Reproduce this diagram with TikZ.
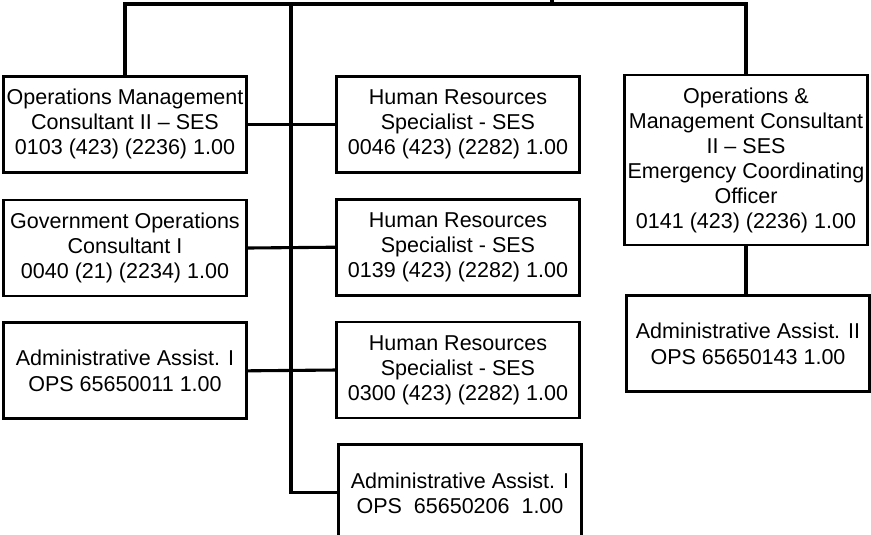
\documentclass[tikz,border=0pt]{standalone}
\usepackage{fontspec}
\setmainfont{Liberation Sans}
\usepackage{tikz}
\usetikzlibrary{positioning}

\begin{document}
\begin{tikzpicture}[
  post/.style={draw, line width=2pt, minimum width=6.075cm, minimum height=2.4cm, inner xsep=1pt,
    font=\fontsize{15.3}{17.8}\selectfont, align=center},
  tallpost/.style={post, minimum height=4.25cm},
  link/.style={line width=2.2pt},
]
  \useasboundingbox (0,0) rectangle (21.775,-13.375);

  % Left column
  \node[post] (ops) at (3.125,-3.11) {Operations Management\\Consultant II -- SES\\0103 (423) (2236) 1.00};
  \node[post, below=0.62cm of ops] (gov) {Government Operations\\Consultant I\\0040 (21) (2234) 1.00};
  \node[post, below=0.6cm of gov] (adm1) {Administrative Assist. I\\OPS 65650011 1.00};

  % Middle column
  \node[post] (hr1) at (11.45,-3.11) {Human Resources\\Specialist - SES\\0046 (423) (2282) 1.00};
  \node[post, below=0.6cm of hr1] (hr2) {Human Resources\\Specialist - SES\\0139 (423) (2282) 1.00};
  \node[post, below=0.6cm of hr2] (hr3) {Human Resources\\Specialist - SES\\0300 (423) (2282) 1.00};
  \node[post, below=0.6cm of hr3, xshift=0.05cm] (adm2) {Administrative Assist. I\\OPS~~65650206~~1.00};

  % Right column
  \node[tallpost] (eco) at (18.65,-4.0) {Operations \&\\Management Consultant\\II -- SES\\Emergency Coordinating\\Officer\\0141 (423) (2236) 1.00};
  \node[post, below=1.2cm of eco, xshift=0.05cm] (adm3) {Administrative Assist. II\\OPS 65650143 1.00};

  % Connectors
  \coordinate (bus) at (7.275,-0.1);
  \coordinate (up) at (13.8,0);
  \draw[link] (ops.north) |- (bus) -| (eco.north);
  \draw[link] (up) -- (up |- bus);
  \draw[link] (bus) |- (adm2.west);
  \draw[link] (ops.east) -- (hr1.west);
  \draw[link] (gov.east) -- (hr2.west);
  \draw[link] (adm1.east) -- (hr3.west);
  \draw[link] (eco.south) -- (eco.south |- adm3.north);

\end{tikzpicture}
\end{document}
